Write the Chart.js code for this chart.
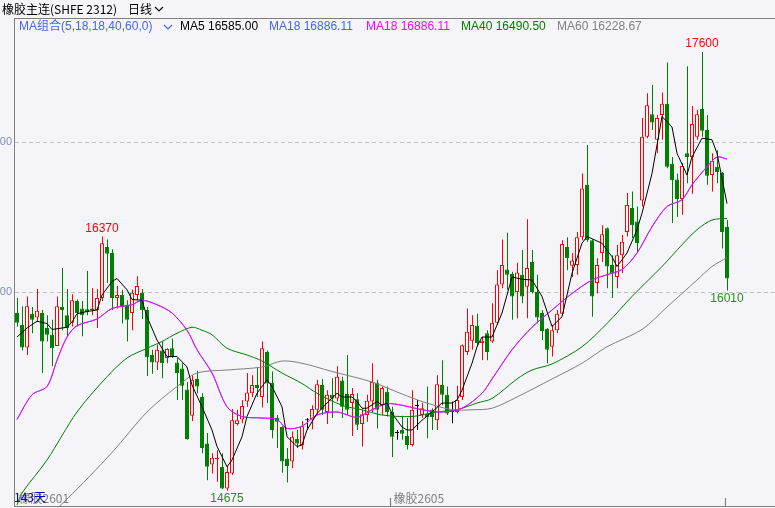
<!DOCTYPE html>
<html>
<head>
<meta charset="utf-8">
<script src="https://cdn.jsdelivr.net/npm/chart.js@4.4.0/dist/chart.umd.min.js"></script>
<style>
  html, body { margin: 0; padding: 0; background: #f4f4f9; }
  #wrap { position: relative; width: 775px; height: 508px; }
</style>
</head>
<body>
<div id="wrap"><canvas id="klineChart" width="775" height="508"></canvas></div>
<script>
// ---------------- data ----------------
const opens = [
  15860,15780,15630,15855,15830,15860,15760,15715,15640,15900,
  15845,15795,15940,15890,15885,15880,15880,15960,16300,16260,
  15960,15980,15915,15860,15980,15995,15880,15580,15530,15610,
  15560,15625,15530,15490,15350,15175,15420,15300,14990,14850,
  14885,14835,14690,14790,15120,15150,15270,15325,15380,15300,
  15600,15395,15160,15100,14890,14870,15020,14980,15145,15145,
  15215,15380,15200,15315,15290,15410,15320,15260,15285,15120,
  15180,15270,15395,15245,15335,15200,15060,15080,15040,14980,
  15240,15180,15190,15215,15145,15380,15315,15200,15200,15300,
  15600,15675,15775,15660,15725,15670,15795,16050,16150,16120,
  16000,16115,16035,16200,16000,15860,15755,15635,15745,15855,
  16300,16175,16180,16365,16715,16345,16060,16260,16425,16180,
  16100,16245,16400,16560,16470,16610,17035,17185,17015,17180,
  17255,16855,16750,16620,16925,16900,17035,17220,17080,16780,
  16835,16795,16435
];
const highs = [
  15960,15905,15970,15900,16020,15880,15845,15815,15970,16160,
  16020,15985,15950,15940,16140,16025,16020,16370,16350,16285,
  16040,16015,15945,16015,16105,16020,15900,15615,15650,15670,
  15625,15690,15560,15525,15400,15445,15475,15325,15060,14925,
  14945,14925,14840,15220,15215,15280,15460,15445,15500,15670,
  15610,15470,15180,15105,14960,15070,15080,15140,15160,15245,
  15415,15420,15345,15425,15505,15435,15580,15360,15325,15215,
  15315,15525,15415,15370,15370,15235,15080,15175,15160,15345,
  15280,15260,15370,15225,15445,15545,15370,15270,15375,15650,
  15890,15845,15855,15700,15745,15925,16145,16350,16395,16135,
  16195,16280,16485,16280,16115,15880,15760,15780,15880,16345,
  16365,16260,16400,16790,16980,16350,16225,16445,16430,16245,
  16315,16380,16660,16670,16570,17160,17325,17380,17180,17330,
  17530,16900,16790,16860,17505,17240,17215,17600,17180,16925,
  16945,16800,16480
];
const lows = [
  15770,15610,15580,15725,15800,15460,15670,15505,15640,15745,
  15700,15770,15770,15705,15845,15845,15760,15940,16060,15880,
  15890,15790,15670,15745,15945,15820,15440,15455,15480,15425,
  15525,15560,15280,15280,15015,15140,15325,14925,14745,14790,
  14735,14685,14675,14780,15110,15125,15235,15300,15300,15230,
  15260,15025,14960,14795,14730,14825,14960,14950,15080,15085,
  15185,15180,15120,15160,15270,15160,15180,15040,15080,14970,
  15135,15200,15090,15180,15170,14900,15015,15015,14950,14970,
  15080,15160,15025,15080,15080,15245,15180,15125,15190,15280,
  15580,15615,15635,15545,15545,15660,15780,16025,16015,15815,
  15825,15925,15825,15990,15790,15680,15525,15570,15725,15845,
  16145,16100,16115,16345,16335,15835,15990,16200,16025,15960,
  16025,16125,16370,16360,16260,16570,17025,17080,16925,17015,
  16825,16460,16500,16515,16725,16655,17015,17035,16715,16670,
  16725,16290,16010
];
const closes = [
  15795,15630,15905,15815,15875,15670,15715,15625,15905,15880,
  15760,15945,15860,15845,15865,15890,15960,16325,16255,15960,
  15980,15900,15815,15995,16040,15880,15565,15530,15615,15525,
  15620,15570,15460,15375,15020,15415,15370,14960,14835,14895,
  14895,14690,14800,15145,15145,15240,15330,15380,15360,15625,
  15390,15080,15135,14870,14840,15035,14990,15105,15145,15220,
  15385,15215,15315,15290,15435,15235,15215,15320,15115,15185,
  15275,15400,15215,15360,15200,15035,15060,15055,14980,15215,
  15240,15225,15165,15165,15385,15315,15190,15200,15280,15645,
  15735,15780,15660,15675,15600,15795,16050,16180,16115,15970,
  16130,15970,16160,16000,15830,15740,15615,15745,15855,16320,
  16225,16210,16365,16690,16345,15970,16180,16385,16170,16125,
  16245,16335,16580,16445,16325,17035,17245,17130,17160,17255,
  16835,16745,16620,16840,16900,17120,17185,17075,16775,16875,
  16800,16400,16090
];

// moving averages, [day index, value]
const ma5 = [
  [0,15700],[2,15760],[4,15805],[6,15790],[7,15750],[10,15765],[11,15800],[12,15855],[14,15870],
  [16,15880],[17,15980],[19,16070],[20,16090],[22,16015],[23,15950],[25,15945],[26,15835],[28,15680],
  [30,15570],[32,15570],[34,15500],[35,15380],[37,15235],[39,15080],[40,14970],[42,14835],[43,14880],
  [45,15035],[46,15170],[48,15325],[50,15415],[51,15370],[53,15235],[54,15035],[56,14970],[57,14980],
  [58,15080],[60,15190],[62,15260],[64,15325],[65,15300],[67,15300],[68,15270],[69,15225],[70,15225],
  [72,15270],[73,15245],[74,15260],[75,15190],[77,15100],[78,15080],[79,15080],[81,15145],[83,15200],
  [85,15260],[87,15260],[88,15280],[89,15345],[91,15525],[92,15635],[93,15700],[95,15700],[97,15860],
  [99,16100],[101,16085],[103,16080],[105,15970],[107,15770],[109,15835],[111,16125],[113,16325],
  [114,16370],[117,16325],[119,16235],[120,16170],[122,16260],[124,16415],[125,16525],[127,16790],
  [129,17170],[131,17100],[132,16925],[134,16780],[135,16900],[137,17025],[139,17015],[140,16925],[142,16590]
];
const ma18 = [
  [0,15150],[3,15315],[6,15370],[8,15545],[10,15700],[12,15775],[16,15820],[19,15890],[23,15915],
  [25,15945],[28,15915],[31,15860],[34,15745],[36,15615],[39,15460],[42,15235],[45,15170],[49,15160],
  [52,15150],[54,15090],[57,15105],[60,15180],[64,15200],[68,15165],[71,15215],[74,15255],[77,15245],
  [81,15215],[85,15200],[89,15225],[93,15325],[95,15420],[99,15615],[103,15765],[107,15880],[111,15990],
  [115,16080],[118,16115],[121,16150],[124,16260],[127,16435],[130,16570],[133,16615],[135,16715],
  [138,16835],[140,16900],[142,16886]
];
const ma40 = [
  [0,14580],[1,14660],[6,14880],[12,15200],[18,15435],[22,15560],[26,15625],[29,15670],[32,15725],
  [35,15765],[37,15745],[39,15715],[42,15625],[46,15580],[49,15540],[53,15460],[57,15390],[60,15325],
  [65,15245],[69,15215],[73,15180],[79,15170],[84,15200],[88,15215],[92,15260],[95,15290],[100,15420],
  [103,15480],[107,15520],[113,15635],[118,15790],[123,15970],[129,16170],[133,16315],[136,16415],
  [139,16480],[142,16490]
];
const ma60 = [
  [0,14320],[10,14620],[19,14930],[26,15200],[32,15370],[36,15460],[42,15480],[49,15500],[53,15540],
  [57,15525],[63,15470],[71,15400],[77,15320],[81,15270],[87,15215],[91,15215],[95,15225],[100,15300],
  [107,15420],[113,15525],[118,15635],[125,15750],[130,15900],[136,16080],[139,16170],[142,16229]
];

const yTicks = [16000, 17000];
const maNames = ['MA5', 'MA18', 'MA18', 'MA40', 'MA60'];
const maLatest = [16585.00, 16886.11, 16886.11, 16490.50, 16228.67];
const markIdx = [17, 42, 137, 142];
const markVal = [16370, 14675, 17600, 16010];
const markSide = ['high', 'low', 'high', 'low'];
const contractNames = ['橡胶2601', '橡胶2605'];
const contractTicks = [-0.5, 74.5, 141.5];
const dayCount = '143天';

// ---------------- styles ----------------
const BG = '#f4f4f9';
const UP = '#ff0000';
const DOWN = '#008000';
const FLAT = '#000000';
const maColors = ['#000000', '#4466ee', '#ff00ff', '#008000', '#808080'];
const LATIN = '"Liberation Sans", "Noto Sans CJK SC", sans-serif';
const CJK = '"Noto Sans CJK SC", sans-serif';

const candleColors = opens.map((o, i) => closes[i] > o ? UP : (closes[i] < o ? DOWN : FLAT));
const bodyFill = opens.map((o, i) => closes[i] > o ? BG : candleColors[i]);

function chevron(ctx, x, y, color) {
  ctx.strokeStyle = color;
  ctx.lineWidth = 1.2;
  ctx.beginPath();
  ctx.moveTo(x, y - 2);
  ctx.lineTo(x + 4, y + 2);
  ctx.lineTo(x + 8, y - 2);
  ctx.stroke();
}

const klineDecor = {
  id: 'klineDecor',
  beforeDraw(chart) {
    const { ctx, width, height } = chart;
    ctx.save();
    ctx.fillStyle = BG;
    ctx.fillRect(0, 0, width, height);
    ctx.restore();
  },
  afterDraw(chart) {
    const { ctx, chartArea: area, scales: { x, y } } = chart;
    ctx.save();

    // header separator
    ctx.strokeStyle = '#808080';
    ctx.lineWidth = 1;
    ctx.beginPath();
    ctx.moveTo(area.left, area.top + 0.5);
    ctx.lineTo(area.right, area.top + 0.5);
    ctx.stroke();

    // title row
    ctx.textBaseline = 'middle';
    ctx.textAlign = 'left';
    ctx.fillStyle = '#000000';
    ctx.font = '12px ' + CJK;
    ctx.fillText('橡胶主连(SHFE 2312)', 2, 9);
    ctx.fillText('日线', 128, 9);
    chevron(ctx, 155, 9, '#000000');

    // MA legend row
    ctx.font = '12px ' + LATIN;
    ctx.fillStyle = maColors[1];
    ctx.fillText('MA组合(5,18,18,40,60,0)', 19, 27);
    chevron(ctx, 164, 27, maColors[1]);
    const legendX = [180, 269, 366, 461, 557];
    maNames.forEach((n, k) => {
      ctx.fillStyle = maColors[k];
      ctx.fillText(n + ' ' + maLatest[k].toFixed(2), legendX[k], 27);
    });

    // high / low markers
    ctx.textAlign = 'center';
    ctx.font = '12px ' + LATIN;
    markIdx.forEach((idx, k) => {
      const px = x.getPixelForValue(idx);
      const py = y.getPixelForValue(markVal[k]);
      if (markSide[k] === 'high') {
        ctx.fillStyle = UP;
        ctx.textBaseline = 'bottom';
        ctx.fillText(String(markVal[k]), px, py - 2);
      } else {
        ctx.fillStyle = '#2e8b22';
        ctx.textBaseline = 'top';
        ctx.fillText(String(markVal[k]), px, py + 2);
      }
    });

    // contract ticks and names on the bottom edge
    ctx.strokeStyle = '#808080';
    contractTicks.forEach((t, k) => {
      if (k === 0) return;
      const px = Math.round(x.getPixelForValue(t)) + 0.5;
      ctx.beginPath();
      ctx.moveTo(px, area.bottom - 8);
      ctx.lineTo(px, area.bottom);
      ctx.stroke();
    });
    ctx.textAlign = 'left';
    ctx.textBaseline = 'middle';
    ctx.font = '12px ' + CJK;
    ctx.fillStyle = '#808080';
    contractNames.forEach((n, k) => {
      ctx.fillText(n, x.getPixelForValue(contractTicks[k]) + 4, area.bottom - 8);
    });
    ctx.fillStyle = '#0000c0';
    ctx.fillText(dayCount, area.left, area.bottom - 9);

    ctx.restore();
  }
};

const maLine = (k, pts, order) => ({
  type: 'line',
  label: maNames[k],
  data: pts.map(([i, v]) => ({ x: i, y: v })),
  xAxisID: 'x',
  yAxisID: 'y',
  borderColor: maColors[k],
  borderWidth: 1,
  pointRadius: 0,
  fill: false,
  tension: k === 0 ? 0 : 0.3,
  order: order
});

new Chart(document.getElementById('klineChart'), {
  type: 'bar',
  data: {
    datasets: [
      maLine(0, ma5, 0),
      maLine(2, ma18, 0.1),
      maLine(1, ma18, 0.2),
      maLine(3, ma40, 0.3),
      maLine(4, ma60, 0.4),
      {
        type: 'bar',
        label: 'body',
        data: opens.map((o, i) => ({ x: i, y: [o, closes[i]] })),
        xAxisID: 'x',
        yAxisID: 'y',
        backgroundColor: bodyFill,
        borderColor: candleColors,
        borderWidth: 1,
        borderSkipped: false,
        grouped: false,
        barThickness: 4,
        maxBarThickness: 4,
        minBarLength: 1,
        inflateAmount: 0,
        order: 1
      },
      {
        type: 'bar',
        label: 'wick',
        data: highs.map((h, i) => ({ x: i, y: [lows[i], h] })),
        xAxisID: 'xWick',
        yAxisID: 'y',
        backgroundColor: candleColors,
        borderWidth: 0,
        grouped: false,
        barThickness: 1,
        maxBarThickness: 1,
        inflateAmount: 0,
        order: 2
      }
    ]
  },
  options: {
    responsive: false,
    devicePixelRatio: 1,
    animation: false,
    events: [],
    layout: { padding: { top: 18, bottom: 2, left: 0, right: 0 } },
    plugins: { legend: { display: false }, tooltip: { enabled: false } },
    scales: {
      x: {
        type: 'linear',
        position: 'bottom',
        min: -0.6,
        max: 151.6,
        offset: false,
        ticks: { display: false },
        grid: { display: false, drawTicks: false, offset: false },
        border: { display: true, color: '#808080' },
        afterFit: s => { s.height = 0; s.paddingLeft = 0; s.paddingRight = 0; }
      },
      xWick: {
        type: 'linear',
        display: false,
        min: -0.7,
        max: 151.5,
        offset: false,
        grid: { offset: false }
      },
      y: {
        type: 'linear',
        position: 'left',
        min: 16000 - 214 / 0.15,
        max: 17000 + 124 / 0.15,
        afterBuildTicks: s => { s.ticks = yTicks.map(v => ({ value: v })); },
        afterFit: s => { s.width = 14; s.paddingTop = 0; s.paddingBottom = 0; },
        ticks: {
          color: '#8090b0',
          padding: 2,
          font: { family: 'Liberation Sans', size: 11 },
          callback: v => String(v)
        },
        grid: { color: '#c4c4c4', drawTicks: false },
        border: { display: true, color: '#808080', dash: [4, 3] }
      }
    }
  },
  plugins: [klineDecor]
});
</script>
</body>
</html>
